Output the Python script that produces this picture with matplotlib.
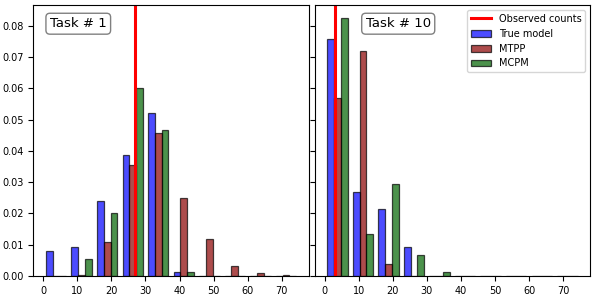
import numpy as np
import matplotlib
matplotlib.use('Agg')
import matplotlib.pyplot as plt

bin_edges = [0, 7.5, 15, 22.5, 30, 37.5, 45, 52.5, 60, 67.5, 75]
labels = ['True model', 'MTPP', 'MCPM']
colors = ['blue', 'darkred', 'darkgreen']

# task 1
true_1 = [0.0079, 0.0092, 0.0239, 0.0386, 0.0520, 0.0012, 0, 0, 0, 0]
mtpp_1 = [0, 0.0002, 0.0108, 0.0354, 0.0456, 0.0249, 0.0117, 0.0031, 0.0009, 0.0002]
mcpm_1 = [0, 0.0054, 0.0201, 0.0600, 0.0465, 0.0012, 0, 0, 0, 0]
obs_1 = 26.8

# task 10
true_10 = [0.0757, 0.0267, 0.0213, 0.0092, 0, 0, 0, 0, 0, 0]
mtpp_10 = [0.0570, 0.0720, 0.0037, 0, 0, 0, 0, 0, 0, 0]
mcpm_10 = [0.0825, 0.0133, 0.0293, 0.0066, 0.0012, 0, 0, 0, 0, 0]
obs_10 = 3.0

centers = (np.array(bin_edges[:-1]) + np.array(bin_edges[1:])) / 2

fig, (ax1, ax2) = plt.subplots(1, 2, sharey=True, figsize=(5.96, 2.96), dpi=100)
fig.subplots_adjust(left=0.056, right=0.99, bottom=0.068, top=0.983, wspace=0.022)

panels = [(ax1, true_1, mtpp_1, mcpm_1, obs_1, 'Task # 1', 0.06),
          (ax2, true_10, mtpp_10, mcpm_10, obs_10, 'Task # 10', 0.185)]

for ax, t, m, c, obs, title, tx in panels:
    ax.axvline(obs, color='red', lw=2.2, label='Observed counts')
    ax.hist([centers, centers, centers], bins=bin_edges, weights=[t, m, c],
            color=colors, alpha=0.7, edgecolor='black', linewidth=0.9, label=labels)
    ax.text(tx, 0.955, title, transform=ax.transAxes, fontsize=9.5, va='top', ha='left',
            bbox=dict(boxstyle='round,pad=0.3', facecolor='white', edgecolor='gray'))
    ax.tick_params(labelsize=7)
    ax.set_xticks([0, 10, 20, 30, 40, 50, 60, 70])

ax2.legend(loc='upper right', fontsize=7)

plt.savefig('out.png')
